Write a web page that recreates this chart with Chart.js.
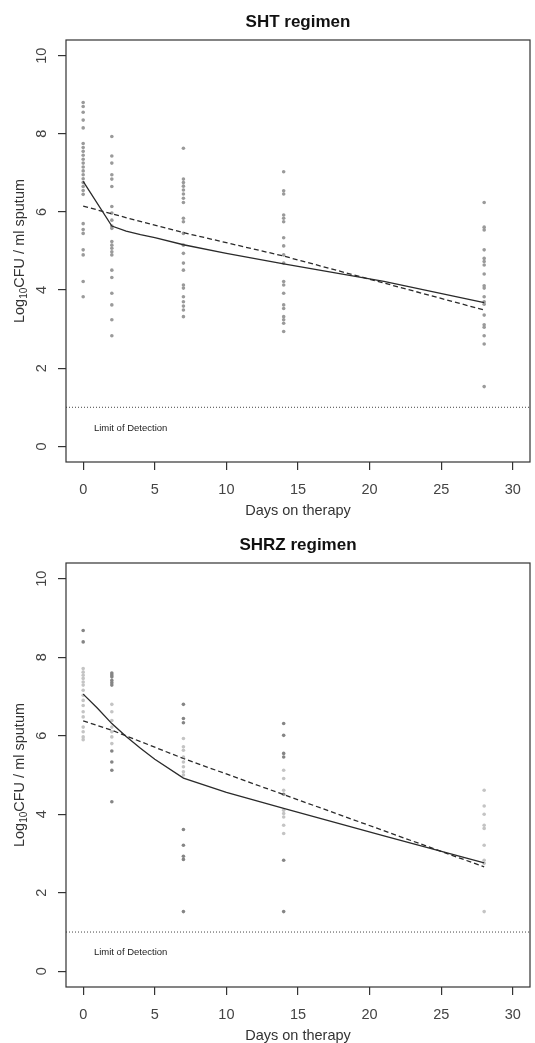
<!DOCTYPE html>
<html>
<head>
<meta charset="utf-8">
<script src="https://cdn.jsdelivr.net/npm/chart.js@4.4.1/dist/chart.umd.min.js"></script>
<style>
  html, body { margin: 0; padding: 0; background: #fff; }
  #wrap { position: relative; width: 535px; height: 1043px; }
  canvas { position: absolute; left: 0; }
</style>
</head>
<body>
<div id="wrap">
  <canvas id="shtChart" width="535" height="521" style="top:0"></canvas>
  <canvas id="shrzChart" width="535" height="522" style="top:521px"></canvas>
</div>
<script>
// sampling days and axis ticks
const sampleDays = [0, 2, 7, 14, 28];
const xTicks = [0, 5, 10, 15, 20, 25, 30];
const yTicks = [0, 2, 4, 6, 8, 10];
const xRange = [-1.2, 31.2];
const yRange = [-0.4, 10.4];
const detectionLimit = 1;

// SHT regimen: log10 CFU per patient, one list per sampling day
const shtCounts = [
    [8.8, 8.7, 8.55, 8.35, 8.15, 7.75, 7.65, 7.55, 7.45, 7.35, 7.25, 7.15, 7.05, 6.95, 6.85, 6.75, 6.65, 6.55, 6.45, 5.7, 5.55, 5.45, 5.03, 4.9, 4.22, 3.83],
    [7.93, 7.43, 7.25, 6.95, 6.84, 6.65, 6.14, 5.97, 5.79, 5.64, 5.58, 5.24, 5.15, 5.07, 4.98, 4.9, 4.51, 4.32, 3.92, 3.62, 3.24, 2.83],
    [7.63, 6.84, 6.75, 6.66, 6.56, 6.46, 6.35, 6.24, 5.84, 5.75, 5.45, 5.15, 4.94, 4.69, 4.51, 4.13, 4.05, 3.83, 3.7, 3.59, 3.49, 3.32],
    [7.03, 6.54, 6.46, 5.92, 5.84, 5.75, 5.34, 5.13, 4.9, 4.69, 4.22, 4.13, 3.92, 3.62, 3.53, 3.32, 3.24, 3.15, 2.94],
    [6.24, 5.61, 5.54, 5.03, 4.81, 4.73, 4.64, 4.41, 4.11, 4.05, 3.83, 3.7, 3.64, 3.36, 3.11, 3.05, 2.83, 2.62, 1.53]
];
const shtFitDays = [0, 2, 3, 4, 5, 7, 10, 14, 21, 28];
const shtFit = [6.78, 5.64, 5.51, 5.42, 5.34, 5.16, 4.94, 4.67, 4.22, 3.68];
const shtMeans = [6.15, 5.95, 5.47, 4.87, 3.49];

// SHRZ regimen: darker and lighter patient points
const shrzDark = [
    [8.68, 8.39],
    [7.6, 7.55, 7.5, 7.41, 7.35, 7.29, 5.61, 5.33, 5.12, 4.32],
    [6.8, 6.44, 6.33, 3.61, 3.21, 2.93, 2.85, 1.52],
    [6.31, 6.01, 5.55, 5.46, 4.51, 2.83, 1.52],
    []
];
const shrzLight = [
    [7.71, 7.62, 7.54, 7.46, 7.37, 7.29, 7.16, 7.03, 6.9, 6.77, 6.61, 6.48, 6.22, 6.1, 5.97, 5.9],
    [6.8, 6.61, 6.39, 6.22, 6.1, 5.97, 5.8],
    [5.93, 5.72, 5.63, 5.46, 5.33, 5.21, 5.08, 5.0],
    [5.12, 4.91, 4.61, 4.1, 4.02, 3.93, 3.72, 3.51],
    [4.61, 4.21, 4.0, 3.72, 3.64, 3.21, 2.83, 2.75, 1.52]
];
const shrzFitDays = [0, 1, 2, 3, 4, 5, 7, 10, 14, 21, 28];
const shrzFit = [7.06, 6.7, 6.31, 5.98, 5.68, 5.4, 4.92, 4.56, 4.15, 3.45, 2.76];
const shrzMeans = [6.38, 6.14, 5.42, 4.5, 2.66];

const FONT = '"Liberation Sans", Arial, sans-serif';

function toPoints(groups) {
    return groups.flatMap((vals, i) => vals.map(v => ({ x: sampleDays[i], y: v })));
}

function pairUp(xs, ys) {
    return xs.map((x, i) => ({ x: x, y: ys[i] }));
}

// box, titles and the detection label, R style
const framePlugin = {
    id: 'frame',
    afterDraw(chart, args, opts) {
        const { ctx, chartArea: a, scales } = chart;
        const cx = (a.left + a.right) / 2;
        const cy = (a.top + a.bottom) / 2;
        ctx.save();
        ctx.strokeStyle = '#333';
        ctx.lineWidth = 1.2;
        ctx.strokeRect(a.left, a.top, a.right - a.left, a.bottom - a.top);

        ctx.textAlign = 'center';
        ctx.textBaseline = 'middle';
        ctx.fillStyle = '#111';
        ctx.font = 'bold 17px ' + FONT;
        ctx.fillText(opts.title, cx, a.top - 18);

        ctx.fillStyle = '#333';
        ctx.font = '14.5px ' + FONT;
        ctx.fillText('Days on therapy', cx, a.bottom + 49);

        // y title with subscript 10
        const big = '14.5px ' + FONT, small = '10px ' + FONT;
        ctx.font = big;
        const w1 = ctx.measureText('Log').width;
        const w3 = ctx.measureText('CFU / ml sputum').width;
        ctx.font = small;
        const w2 = ctx.measureText('10').width;
        const total = w1 + w2 + w3;
        ctx.translate(a.left - 46, cy);
        ctx.rotate(-Math.PI / 2);
        ctx.textAlign = 'left';
        ctx.font = big;
        ctx.fillText('Log', -total / 2, 0);
        ctx.font = small;
        ctx.fillText('10', -total / 2 + w1, 4);
        ctx.font = big;
        ctx.fillText('CFU / ml sputum', -total / 2 + w1 + w2, 0);
        ctx.setTransform(1, 0, 0, 1, 0, 0);

        ctx.fillStyle = '#222';
        ctx.font = '9.5px ' + FONT;
        ctx.textAlign = 'left';
        ctx.fillText('Limit of Detection', scales.x.getPixelForValue(0.75), scales.y.getPixelForValue(0.47));
        ctx.restore();
    }
};

function makeChart(id, title, pointSets, fitDays, fit, means, padTop, axisHeight) {
    const datasets = pointSets.map(p => ({
        type: 'scatter',
        data: toPoints(p.values),
        pointRadius: 1.8,
        pointBorderWidth: 0,
        pointBackgroundColor: p.color,
        order: 3
    }));
    datasets.push({
        type: 'line',
        data: pairUp(fitDays, fit),
        borderColor: '#2a2a2a',
        borderWidth: 1.3,
        pointRadius: 0,
        tension: 0,
        order: 1
    });
    datasets.push({
        type: 'line',
        data: pairUp(sampleDays, means),
        borderColor: '#2a2a2a',
        borderWidth: 1.3,
        borderDash: [5, 3],
        pointRadius: 0,
        tension: 0,
        order: 1
    });
    datasets.push({
        type: 'line',
        data: [{ x: xRange[0], y: detectionLimit }, { x: xRange[1], y: detectionLimit }],
        borderColor: '#444',
        borderWidth: 1,
        borderDash: [1, 2],
        pointRadius: 0,
        order: 2
    });

    return new Chart(document.getElementById(id), {
        type: 'scatter',
        data: { datasets: datasets },
        plugins: [framePlugin],
        options: {
            responsive: false,
            animation: false,
            layout: { padding: { top: padTop, right: 5, left: 0, bottom: 0 } },
            plugins: {
                legend: { display: false },
                tooltip: { enabled: false },
                frame: { title: title }
            },
            scales: {
                x: {
                    type: 'linear',
                    min: xRange[0],
                    max: xRange[1],
                    afterBuildTicks: s => { s.ticks = xTicks.map(v => ({ value: v })); },
                    afterFit: s => { s.height = axisHeight; },
                    border: { display: false },
                    grid: { drawOnChartArea: false, drawTicks: true, tickLength: 8, color: '#333', lineWidth: 1.2 },
                    ticks: { color: '#444', padding: 11, font: { size: 14.5, family: FONT }, maxRotation: 0 }
                },
                y: {
                    type: 'linear',
                    min: yRange[0],
                    max: yRange[1],
                    afterBuildTicks: s => { s.ticks = yTicks.map(v => ({ value: v })); },
                    afterFit: s => { s.width = 66; },
                    border: { display: false },
                    grid: { drawOnChartArea: false, drawTicks: true, tickLength: 8, color: '#333', lineWidth: 1.2 },
                    ticks: { color: '#444', padding: 8, crossAlign: 'center', minRotation: 90, maxRotation: 90, font: { size: 14.5, family: FONT } }
                }
            }
        }
    });
}

makeChart('shtChart', 'SHT regimen', [{ values: shtCounts, color: '#9a9a9a' }],
    shtFitDays, shtFit, shtMeans, 40, 59);
makeChart('shrzChart', 'SHRZ regimen',
    [{ values: shrzLight, color: '#c4c4c4' }, { values: shrzDark, color: '#858585' }],
    shrzFitDays, shrzFit, shrzMeans, 42, 56);
</script>
</body>
</html>
